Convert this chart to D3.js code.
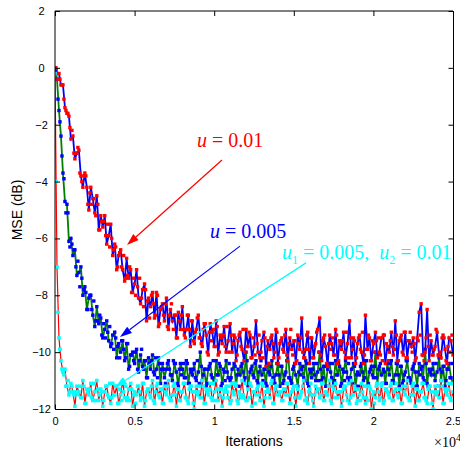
<!DOCTYPE html>
<html>
<head>
<meta charset="utf-8">
<script src="https://cdn.jsdelivr.net/npm/d3@7"></script>
<style>
  body { margin: 0; background: #fff; }
  svg { display: block; }
</style>
</head>
<body>
<svg id="chart"></svg>
<script>
// one stored sample every STEP iterations; marker runs sit half a step later
const STEP = 125;
const MARK_OFFSET = 62.5;

// u = 0.01, solid run (blue)
const mseSlow = [
  0.0, -0.2, -0.2, -0.6, -0.6, -1.4, -1.6, -1.7, -2.5, -2.4,
  -3.2, -3.0, -2.9, -3.8, -4.2, -3.7, -4.2, -5.0, -4.2, -4.6,
  -5.1, -4.5, -5.7, -5.2, -5.6, -5.2, -6.2, -5.9, -5.5, -6.6,
  -6.2, -7.1, -6.6, -6.4, -7.1, -7.5, -6.7, -7.4, -7.1, -7.9,
  -7.6, -7.1, -8.1, -8.3, -7.8, -7.6, -8.9, -8.1, -8.4, -7.9,
  -8.8, -7.9, -9.1, -8.5, -8.3, -8.9, -8.1, -9.2, -8.5, -8.9,
  -8.7, -9.5, -8.6, -9.2, -8.4, -9.4, -9.2, -8.7, -9.8, -8.9,
  -9.7, -9.2, -8.7, -9.5, -9.8, -9.0, -9.4, -10.1, -9.0, -9.3,
  -9.8, -8.9, -10.1, -9.4, -9.7, -9.1, -10.0, -9.6, -9.0, -10.0,
  -9.4, -10.3, -9.6, -9.3, -9.9, -10.3, -9.2, -9.8, -9.4, -10.2,
  -9.8, -8.9, -10.0, -10.2, -9.6, -9.3, -10.5, -9.6, -9.9, -9.4,
  -10.2, -9.2, -10.4, -9.7, -9.5, -10.0, -9.2, -10.3, -9.5, -9.9,
  -9.6, -10.4, -9.4, -9.9, -8.8, -10.2, -9.9, -9.3, -10.4, -9.5,
  -10.2, -9.7, -9.2, -8.8, -10.3, -9.5, -9.8, -10.5, -9.4, -9.7,
  -10.1, -9.2, -10.4, -9.6, -9.9, -9.3, -10.2, -9.7, -8.9, -10.2,
  -9.5, -10.4, -9.7, -9.4, -10.0, -10.4, -8.7, -9.9, -9.5, -10.3,
  -9.7, -9.3, -10.2, -10.0, -9.5, -9.4, -10.4, -9.8, -10.0, -9.3,
  -10.1, -8.9, -10.3, -9.6, -9.4, -10.1, -9.3, -10.2, -9.6, -9.8,
  -9.5, -10.3, -9.5, -8.6, -8.3, -10.1, -10.0, -8.5, -10.3, -9.6,
  -10.1, -9.8, -9.3, -10.1, -10.2, -9.4, -9.9, -10.4, -9.5, -9.6,
  -10.1
];
// u = 0.01, marker run (red)
const mseSlowMarks = [
  0.0, -0.4, -0.4, -0.6, -1.1, -1.5, -1.6, -2.1, -2.2, -3.0,
  -3.0, -2.8, -3.7, -4.0, -3.8, -3.8, -4.8, -4.4, -4.8, -4.6,
  -5.2, -4.8, -5.7, -5.4, -5.4, -5.9, -5.5, -6.3, -6.0, -6.4,
  -6.3, -7.0, -6.5, -7.0, -6.6, -7.4, -7.3, -7.0, -7.9, -7.4,
  -8.0, -7.7, -7.4, -8.1, -8.4, -7.8, -8.2, -8.8, -8.0, -8.3,
  -8.7, -8.0, -9.0, -8.4, -8.7, -8.3, -9.1, -8.7, -8.3, -9.2,
  -8.7, -9.5, -8.9, -8.7, -9.2, -9.5, -8.7, -9.2, -8.9, -9.6,
  -9.3, -8.8, -9.5, -9.7, -9.2, -9.0, -10.0, -9.3, -9.6, -9.2,
  -9.8, -9.1, -10.0, -9.5, -9.4, -9.8, -9.1, -10.0, -9.4, -9.7,
  -9.5, -10.1, -9.4, -9.8, -9.2, -10.0, -9.8, -9.3, -10.2, -9.5,
  -10.1, -9.7, -9.4, -10.0, -10.2, -9.5, -9.8, -10.4, -9.5, -9.7,
  -10.0, -9.3, -10.2, -9.6, -9.9, -9.4, -10.1, -9.7, -9.2, -10.1,
  -9.6, -10.3, -9.7, -9.5, -10.0, -10.2, -9.4, -9.9, -9.5, -10.2,
  -9.8, -9.3, -10.0, -10.1, -9.6, -9.4, -10.4, -9.7, -9.9, -9.5,
  -10.1, -9.4, -10.3, -9.7, -9.6, -10.0, -9.3, -10.2, -9.5, -9.9,
  -9.6, -10.2, -9.5, -9.9, -9.3, -10.1, -9.9, -9.4, -10.3, -9.6,
  -10.0, -9.6, -9.5, -10.1, -10.3, -9.4, -9.7, -10.3, -9.6, -9.8,
  -9.9, -9.4, -10.3, -9.5, -10.0, -9.3, -10.2, -9.6, -9.3, -10.0,
  -9.7, -10.2, -9.6, -9.4, -10.1, -10.3, -9.5, -9.8, -9.4, -10.1,
  -9.9, -9.2, -10.1, -10.0, -9.5, -9.5, -10.3, -9.8, -10.0, -9.4
];

// u = 0.005, solid run (green)
const mseMid = [
  0.0, -0.4, -1.5, -2.4, -3.7, -4.7, -4.8, -6.1, -6.0, -6.6,
  -6.4, -7.3, -7.2, -7.0, -8.0, -7.7, -8.5, -8.1, -8.0, -8.7,
  -9.1, -8.4, -9.0, -8.8, -9.5, -9.2, -8.9, -9.6, -9.8, -9.4,
  -9.3, -10.2, -9.7, -10.0, -9.6, -10.3, -9.7, -10.6, -10.1, -10.0,
  -10.4, -9.9, -10.7, -10.1, -10.5, -10.3, -10.9, -10.2, -10.6, -10.1,
  -10.8, -10.6, -10.2, -11.1, -10.4, -10.9, -10.6, -10.3, -10.8, -11.0,
  -10.4, -10.7, -11.2, -10.4, -10.6, -10.9, -10.3, -11.1, -10.6, -10.8,
  -10.4, -11.0, -10.7, -10.0, -11.0, -10.6, -11.2, -10.6, -10.4, -10.9,
  -11.1, -10.3, -10.8, -10.5, -11.1, -10.7, -10.3, -10.9, -11.0, -10.6,
  -10.4, -11.2, -10.6, -10.8, -10.4, -11.0, -10.0, -11.2, -10.7, -10.5,
  -10.9, -10.3, -11.1, -10.5, -10.8, -10.6, -11.1, -10.4, -10.8, -10.3,
  -11.0, -10.8, -10.4, -11.2, -10.5, -11.0, -10.7, -9.9, -10.9, -11.1,
  -10.5, -10.8, -11.2, -10.4, -10.6, -10.9, -10.3, -11.1, -10.6, -10.9,
  -10.4, -11.0, -10.7, -10.0, -11.0, -10.5, -11.2, -10.6, -10.4, -10.9,
  -11.1, -10.3, -10.8, -10.5, -11.1, -10.7, -10.3, -10.9, -11.0, -10.6,
  -10.4, -11.2, -10.7, -10.8, -10.4, -11.0, -10.3, -11.2, -10.7, -10.5,
  -10.9, -10.0, -11.1, -10.5, -10.8, -10.6, -11.1, -10.4, -10.8, -10.3,
  -11.0, -10.8, -10.4, -11.2, -10.5, -11.0, -10.7, -10.3, -10.9, -11.1,
  -10.5, -10.7, -11.2, -10.4, -10.6, -10.9, -9.9, -11.1, -10.6, -10.8,
  -10.4, -11.0, -10.7, -10.2, -11.0, -10.5, -11.2, -10.6, -10.4, -10.9,
  -11.1
];
// u = 0.005, marker run (blue)
const mseMidMarks = [
  -0.1, -1.1, -1.9, -3.1, -3.9, -5.1, -5.1, -6.3, -6.2, -6.4,
  -7.0, -6.8, -7.7, -7.4, -7.8, -7.9, -8.5, -8.0, -8.5, -8.2,
  -8.9, -8.9, -8.7, -9.4, -9.0, -9.5, -9.3, -9.1, -9.7, -9.9,
  -9.5, -9.8, -10.2, -9.6, -9.9, -10.2, -9.7, -10.5, -10.1, -10.3,
  -10.0, -10.6, -10.3, -9.9, -10.6, -10.3, -10.9, -10.4, -10.3, -10.7,
  -10.2, -10.9, -10.4, -10.6, -10.6, -11.1, -10.4, -10.6, -10.8, -10.3,
  -10.4, -11.1, -10.6, -10.8, -10.4, -10.9, -10.4, -11.1, -10.7, -10.6,
  -10.9, -10.3, -11.1, -10.5, -10.8, -10.6, -11.1, -10.5, -10.8, -10.3,
  -11.0, -10.8, -10.4, -11.2, -10.6, -11.0, -10.7, -10.4, -10.9, -11.1,
  -10.5, -10.8, -11.2, -10.5, -10.7, -10.9, -10.3, -11.1, -10.6, -10.8,
  -10.4, -11.0, -10.7, -10.3, -11.0, -10.6, -11.2, -10.7, -10.5, -10.9,
  -11.1, -10.4, -10.8, -10.5, -11.1, -10.8, -10.3, -10.9, -11.0, -10.6,
  -10.4, -11.2, -10.7, -10.8, -10.5, -11.0, -10.4, -11.2, -10.7, -10.6,
  -10.8, -10.4, -11.0, -10.6, -10.9, -10.5, -11.2, -10.4, -10.7, -10.4,
  -11.0, -10.8, -10.4, -11.2, -10.6, -11.0, -10.7, -10.4, -10.9, -11.1,
  -10.5, -10.8, -11.2, -10.5, -10.7, -10.9, -10.3, -11.1, -10.6, -10.8,
  -10.5, -10.9, -10.6, -10.4, -11.1, -10.7, -11.1, -10.6, -10.4, -11.0,
  -11.1, -10.4, -10.8, -10.5, -11.1, -10.8, -10.3, -10.9, -11.0, -10.6,
  -10.4, -11.2, -10.7, -10.8, -10.5, -11.0, -10.4, -11.2, -10.7, -10.6,
  -10.8, -10.4, -11.2, -10.6, -10.7, -10.5, -11.0, -10.6, -10.9, -10.4
];

// u1 = 0.005, u2 = 0.01, solid run (red)
const mseFast = [
  -0.2, -7.0, -9.5, -10.3, -10.7, -10.6, -11.2, -11.5, -11.1, -11.4, -11.9,
  -11.2, -11.4, -11.6, -11.0, -11.8, -11.3, -11.5, -11.1, -11.7, -11.4,
  -11.0, -11.7, -11.3, -11.9, -11.4, -11.2, -11.6, -11.8, -11.1, -11.5,
  -11.2, -11.8, -11.5, -11.0, -11.6, -11.7, -11.3, -11.1, -11.9, -11.4,
  -11.5, -11.2, -11.7, -11.1, -11.9, -11.4, -11.3, -11.6, -11.0, -11.8,
  -11.2, -11.5,
  -11.3, -11.8, -11.2, -11.5, -11.0, -11.7, -11.5, -11.1, -11.9, -11.3,
  -11.7, -11.4, -11.1, -11.6, -11.8, -11.2, -11.4, -12.0, -11.2, -11.4,
  -11.6, -11.0, -11.8, -11.3, -11.5, -11.1, -11.7, -11.4, -11.0, -11.7,
  -11.3, -11.9, -11.4, -11.2, -11.6, -11.8, -11.1, -11.5, -11.2, -11.8,
  -11.5, -11.0, -11.6, -11.7, -11.3, -11.1, -11.9, -11.4, -11.5, -11.2,
  -11.7, -11.1, -11.9, -11.4, -11.3, -11.6, -11.0, -11.8, -11.2, -11.5,
  -11.4, -11.7, -11.3, -11.5, -11.1, -11.8, -11.4, -11.2, -11.9, -11.3,
  -11.6, -11.4, -11.0, -11.7, -11.8, -11.3, -11.5, -11.9, -11.2, -11.3,
  -11.6, -11.1, -11.7, -11.4, -11.5, -11.0, -11.8, -11.3, -11.1, -11.6,
  -11.4, -11.9, -11.3, -11.2, -11.7, -11.8, -11.0, -11.5, -11.3, -11.7,
  -11.5, -11.1, -11.6, -11.8, -11.2, -11.2, -12.0, -11.4, -11.6, -11.1,
  -11.7, -11.2, -11.8, -11.3, -11.4, -11.6, -11.1, -11.7, -11.3, -11.5,
  -11.3, -11.8, -11.2, -11.5, -11.0, -11.7, -11.5, -11.1, -11.9, -11.3,
  -11.7, -11.4, -11.1, -11.6, -11.8, -11.2, -11.4, -12.0, -11.2, -11.4,
  -11.6, -11.0, -11.8, -11.3, -11.5, -11.1, -11.7, -11.4
];
// u1 = 0.005, u2 = 0.01, marker run (cyan)
const mseFastMarks = [
  -4.0, -8.6, -9.9, -10.6, -10.8, -11.2, -11.0, -11.4, -11.2, -11.5,
  -11.4, -11.5, -11.2, -11.6, -11.2, -11.8, -11.4, -11.3, -11.6, -11.1,
  -11.7, -11.3, -11.5,
  -11.4, -11.7, -11.2, -11.5, -11.1, -11.6, -11.5, -11.2, -11.8, -11.3,
  -11.7, -11.4, -11.2, -11.6, -11.7, -11.3, -11.5, -11.8, -11.2, -11.4,
  -11.6, -11.1, -11.7, -11.3, -11.5, -11.2, -11.7, -11.4, -11.1, -11.6,
  -11.3, -11.8, -11.4, -11.2, -11.6, -11.7, -11.2, -11.5, -11.3, -11.7,
  -11.4, -11.1, -11.6, -11.7, -11.3, -11.2, -11.8, -11.4, -11.5, -11.2,
  -11.6, -11.2, -11.8, -11.4, -11.3, -11.6, -11.1, -11.7, -11.3, -11.5,
  -11.3, -11.6, -11.3, -11.4, -11.2, -11.7, -11.4, -11.1, -11.7, -11.4,
  -11.6, -11.5, -11.1, -11.7, -11.6, -11.2, -11.4, -11.8, -11.3, -11.5,
  -11.7, -11.2, -11.6, -11.4, -11.4, -11.1, -11.8, -11.3, -11.2, -11.5,
  -11.4, -11.7, -11.3, -11.1, -11.5, -11.8, -11.3, -11.6, -11.2, -11.6,
  -11.5, -11.2, -11.7, -11.6, -11.4, -11.1, -11.7, -11.5, -11.4, -11.3,
  -11.5, -11.1, -11.7, -11.5, -11.2, -11.7, -11.2, -11.6, -11.4, -11.4,
  -11.4, -11.7, -11.2, -11.5, -11.1, -11.6, -11.5, -11.2, -11.8, -11.3,
  -11.7, -11.4, -11.2, -11.6, -11.7, -11.3, -11.5, -11.8, -11.2, -11.4,
  -11.6, -11.1, -11.7, -11.3, -11.5, -11.2, -11.7, -11.4, -11.1, -11.6,
  -11.3, -11.8, -11.4, -11.2, -11.6, -11.7, -11.2, -11.5, -11.3, -11.7,
  -11.4, -11.1, -11.6, -11.7, -11.3, -11.2, -11.8, -11.4, -11.5, -11.2,
  -11.6, -11.2, -11.8, -11.4, -11.3, -11.6, -11.1
];

const xTicks = [0, 5000, 10000, 15000, 20000, 25000];
const xTickLabels = ["0", "0.5", "1", "1.5", "2", "2.5"];
const yTicks = [2, 0, -2, -4, -6, -8, -10, -12];

// annotation text anchor and arrow (iterations, dB)
const notes = [
  { color: "#ff0000", at: [8919, -2.78], from: [10490, -3.24], to: [4522, -6.23],
    parts: [{ t: "u", i: true }, { t: " = 0.01" }] },
  { color: "#0000ff", at: [9736, -5.98], from: [11620, -6.27], to: [4083, -9.47],
    parts: [{ t: "u", i: true }, { t: " = 0.005" }] },
  { color: "#00ffff", at: [14258, -6.72], from: [15765, -6.86], to: [3769, -11.23],
    parts: [{ t: "u", i: true }, { t: "1", sub: true }, { t: " = 0.005,  " },
            { t: "u", i: true }, { t: "2", sub: true }, { t: " = 0.01" }] }
];

const width = 460, height = 453;
const plotLeft = 55, plotRight = 453, plotTop = 11, plotBottom = 409;

const svg = d3.select("#chart").attr("width", width).attr("height", height);

const x = d3.scaleLinear().domain([0, 25000]).range([plotLeft, plotRight]);
const y = d3.scaleLinear().domain([-12, 2]).range([plotBottom, plotTop]);

svg.append("defs").append("clipPath").attr("id", "plot-clip")
  .append("rect").attr("x", plotLeft).attr("y", plotTop)
  .attr("width", plotRight - plotLeft).attr("height", plotBottom - plotTop);

const plot = svg.append("g").attr("clip-path", "url(#plot-clip)");

function drawMarks(pts, color, size) {
  plot.append("g").selectAll("rect").data(pts).join("rect")
    .attr("x", (d) => x(d[0]) - size / 2)
    .attr("y", (d) => y(d[1]) - size / 2)
    .attr("width", size)
    .attr("height", size)
    .attr("fill", color);
}

// solid run as a line, marker run as dots on top
function drawSeries(values, marks, lineColor, markColor, lineWidth, markSize) {
  const pts = values.map((v, i) => [i * STEP, v]);
  const markPts = marks.map((v, i) => [i * STEP + MARK_OFFSET, v]);
  const line = d3.line().x((d) => x(d[0])).y((d) => y(d[1]));
  plot.append("path").datum(pts)
    .attr("d", line)
    .attr("fill", "none")
    .attr("stroke", lineColor)
    .attr("stroke-width", lineWidth);
  drawMarks(pts, markColor, markSize);
  drawMarks(markPts, markColor, markSize);
}

drawSeries(mseMid, mseMidMarks, "#008000", "#0000ff", 1.8, 3.4);
drawSeries(mseSlow, mseSlowMarks, "#0000ff", "#ff0000", 1.8, 3.4);
drawSeries(mseFast, mseFastMarks, "#ff0000", "#00ffff", 1.2, 3.6);

// frame
svg.append("line").attr("x1", plotLeft).attr("x2", plotRight).attr("y1", plotTop).attr("y2", plotTop)
  .attr("stroke", "#000").attr("stroke-width", 1);
svg.append("line").attr("x1", plotLeft).attr("x2", plotLeft).attr("y1", plotTop).attr("y2", plotBottom)
  .attr("stroke", "#000").attr("stroke-width", 1);
svg.append("line").attr("x1", plotLeft).attr("x2", plotRight + 0.5)
  .attr("y1", plotBottom + 0.5).attr("y2", plotBottom + 0.5)
  .attr("stroke", "#000").attr("stroke-width", 1);
svg.append("line").attr("x1", plotRight + 0.5).attr("x2", plotRight + 0.5)
  .attr("y1", plotTop).attr("y2", plotBottom + 0.5)
  .attr("stroke", "#000").attr("stroke-width", 1);

// axes with inward ticks
const tickFont = "Liberation Sans, Arial, sans-serif";
const serifFont = "Liberation Serif, Times New Roman, serif";

svg.append("g")
  .attr("transform", `translate(0,${plotBottom + 0.5})`)
  .call(d3.axisBottom(x).tickValues(xTicks).tickFormat((d, i) => xTickLabels[i])
    .tickSize(-5).tickPadding(8));
svg.append("g")
  .attr("transform", `translate(0,${plotTop})`)
  .call(d3.axisTop(x).tickValues(xTicks).tickFormat("").tickSize(-5));

const yAxis = svg.append("g")
  .attr("transform", `translate(${plotLeft},0)`)
  .call(d3.axisLeft(y).tickValues(yTicks).tickSize(-5).tickPadding(8));
svg.append("g")
  .attr("transform", `translate(${plotRight + 0.5},0)`)
  .call(d3.axisRight(y).tickValues(yTicks).tickFormat("").tickSize(-5));

svg.selectAll(".domain").remove();
svg.selectAll(".tick line").attr("stroke", "#000");
svg.selectAll(".tick text")
  .attr("fill", "#000")
  .style("font-family", tickFont)
  .style("font-size", "11px");
yAxis.selectAll(".tick text").attr("text-anchor", "middle").attr("x", -13.5);

// axis titles
svg.append("text")
  .attr("x", (plotLeft + plotRight) / 2).attr("y", 446)
  .attr("text-anchor", "middle")
  .style("font-family", tickFont).style("font-size", "14px")
  .text("Iterations");

svg.append("text")
  .attr("transform", `translate(22,${(plotTop + plotBottom) / 2}) rotate(-90)`)
  .attr("text-anchor", "middle")
  .style("font-family", tickFont).style("font-size", "14px")
  .text("MSE (dB)");

const expo = svg.append("text")
  .attr("x", 434).attr("y", 447)
  .style("font-family", serifFont)
  .style("font-size", "14px");
expo.append("tspan").text("\u00d710");
expo.append("tspan").attr("dy", -6).style("font-size", "10px").text("4");

// annotations
notes.forEach((n) => {
  const x1 = x(n.from[0]), y1 = y(n.from[1]);
  const x2 = x(n.to[0]), y2 = y(n.to[1]);
  const ang = Math.atan2(y2 - y1, x2 - x1);
  const len = 12, half = 4;
  const bx = x2 - len * Math.cos(ang), by = y2 - len * Math.sin(ang);

  svg.append("line")
    .attr("x1", x1).attr("y1", y1).attr("x2", bx).attr("y2", by)
    .attr("stroke", n.color).attr("stroke-width", 1.2);
  svg.append("polygon")
    .attr("points", [
      [x2, y2],
      [bx + half * Math.sin(ang), by - half * Math.cos(ang)],
      [bx - half * Math.sin(ang), by + half * Math.cos(ang)]
    ].map((p) => p.join(",")).join(" "))
    .attr("fill", n.color);

  const label = svg.append("text")
    .attr("x", x(n.at[0])).attr("y", y(n.at[1]))
    .attr("fill", n.color)
    .style("font-family", serifFont)
    .style("font-size", "20px")
    .style("white-space", "pre");
  let shifted = false;
  n.parts.forEach((p) => {
    const span = label.append("tspan").text(p.t);
    if (p.i) span.style("font-style", "italic");
    if (p.sub) {
      span.attr("dy", 5).style("font-size", "12px");
      shifted = true;
    } else if (shifted) {
      span.attr("dy", -5);
      shifted = false;
    }
  });
});
</script>
</body>
</html>
